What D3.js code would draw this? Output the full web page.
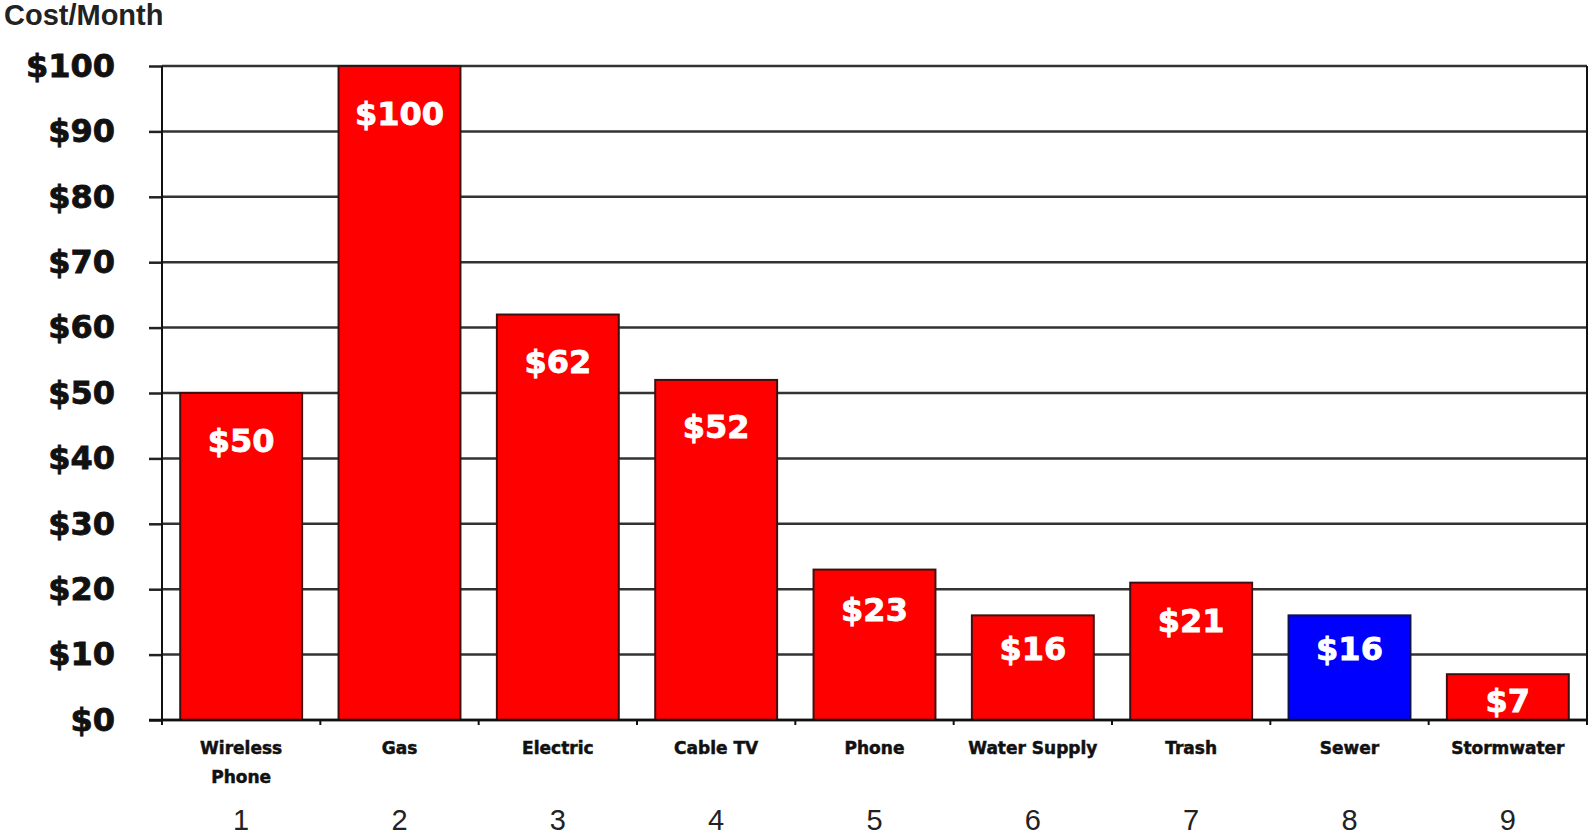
<!DOCTYPE html>
<html>
<head>
<meta charset="utf-8">
<script src="https://cdn.jsdelivr.net/npm/d3@7"></script>
<style>
  body { margin: 0; background: #fff; }
  svg { display: block; }
</style>
</head>
<body>
<div id="chart"></div>
<script>
// data
var categories = ["Wireless\nPhone", "Gas", "Electric", "Cable TV", "Phone", "Water Supply", "Trash", "Sewer", "Stormwater"];
var costs = [50, 100, 62, 52, 23, 16, 21, 16, 7];
var ranks = [1, 2, 3, 4, 5, 6, 7, 8, 9];
var highlight = "Sewer";
var yTicks = [0, 10, 20, 30, 40, 50, 60, 70, 80, 90, 100];

var W = 1589, H = 837;
// plot area edges (note: "top" is a reserved window prop, so prefixed)
var plotL = 162, plotR = 1587, plotT = 66, plotB = 720;

var svg = d3.select("#chart")
  .append("svg")
  .attr("width", W)
  .attr("height", H);

var x = d3.scaleBand()
  .domain(categories)
  .range([plotL, plotR])
  .paddingInner(0.23)
  .paddingOuter(0.115);

var y = d3.scaleLinear()
  .domain([0, 100])
  .range([plotB, plotT]);

// gridlines + y axis
var yAxis = d3.axisLeft(y)
  .tickValues(yTicks)
  .tickSize(13)
  .tickPadding(34)
  .tickFormat(function(d) { return "$" + d; });

svg.append("g")
  .selectAll("line")
  .data(yTicks)
  .enter()
  .append("line")
  .attr("x1", plotL)
  .attr("x2", plotR)
  .attr("y1", function(d) { return y(d); })
  .attr("y2", function(d) { return y(d); })
  .style("stroke", "#333")
  .style("stroke-width", 2.5);

var gy = svg.append("g")
  .attr("transform", "translate(" + plotL + ",0)")
  .call(yAxis);
gy.select(".domain").remove();
gy.selectAll(".tick line").style("stroke", "#222").style("stroke-width", 2.5);
gy.selectAll(".tick text")
  .style("font-family", "'DejaVu Sans', sans-serif")
  .style("font-weight", "bold")
  .style("font-size", "32px")
  .style("fill", "#111")
  .style("stroke", "#111")
  .style("stroke-width", 0.8);

// frame: left axis line and right border
svg.append("line")
  .attr("x1", plotL).attr("x2", plotL)
  .attr("y1", plotT).attr("y2", plotB + 5)
  .style("stroke", "#111").style("stroke-width", 2);
svg.append("line")
  .attr("x1", plotR).attr("x2", plotR)
  .attr("y1", plotT).attr("y2", plotB + 4)
  .style("stroke", "#111").style("stroke-width", 2);

// bars
svg.selectAll("rect.bar")
  .data(categories)
  .enter()
  .append("rect")
  .attr("class", "bar")
  .attr("x", function(d) { return x(d); })
  .attr("y", function(d, i) { return y(costs[i]); })
  .attr("width", x.bandwidth())
  .attr("height", function(d, i) { return plotB - y(costs[i]); })
  .style("fill", function(d) { return d === highlight ? "#0000ff" : "#ff0000"; })
  .style("stroke", function(d) { return d === highlight ? "#101050" : "#401010"; })
  .style("stroke-width", 2);

// x axis line and small ticks between bands
svg.append("line")
  .attr("x1", plotL - 13).attr("x2", plotR)
  .attr("y1", plotB).attr("y2", plotB)
  .style("stroke", "#111").style("stroke-width", 2.5);

svg.append("g")
  .selectAll("line")
  .data(d3.range(categories.length + 1))
  .enter()
  .append("line")
  .attr("x1", function(i) { return plotL + i * x.step(); })
  .attr("x2", function(i) { return plotL + i * x.step(); })
  .attr("y1", plotB)
  .attr("y2", plotB + 5)
  .style("stroke", "#111")
  .style("stroke-width", 2);

// value labels inside the bars
svg.selectAll("text.val")
  .data(categories)
  .enter()
  .append("text")
  .attr("class", "val")
  .attr("x", function(d) { return x(d) + x.bandwidth() / 2; })
  .attr("y", function(d, i) {
    var h = plotB - y(costs[i]);
    return y(costs[i]) + Math.min(47, 20 + h * 0.13);
  })
  .attr("dy", "0.36em")
  .attr("text-anchor", "middle")
  .style("font-family", "'DejaVu Sans', sans-serif")
  .style("font-weight", "bold")
  .style("font-size", "32px")
  .style("fill", "#fff")
  .style("stroke", "#fff")
  .style("stroke-width", 0.8)
  .text(function(d, i) { return "$" + costs[i]; });

// category labels
var cat = svg.selectAll("text.cat")
  .data(categories)
  .enter()
  .append("text")
  .attr("class", "cat")
  .attr("x", function(d) { return x(d) + x.bandwidth() / 2; })
  .attr("y", 748)
  .attr("text-anchor", "middle")
  .style("font-family", "'DejaVu Sans', sans-serif")
  .style("font-weight", "bold")
  .style("font-size", "17px")
  .style("fill", "#111")
  .style("stroke", "#111")
  .style("stroke-width", 0.5);

cat.selectAll("tspan")
  .data(function(d) { return d.split("\n"); })
  .enter()
  .append("tspan")
  .attr("x", function() { return this.parentNode.getAttribute("x"); })
  .attr("dy", function(d, i) { return i === 0 ? "0.36em" : "29px"; })
  .text(function(d) { return d; });

// rank numbers
svg.selectAll("text.rank")
  .data(categories)
  .enter()
  .append("text")
  .attr("class", "rank")
  .attr("x", function(d) { return x(d) + x.bandwidth() / 2; })
  .attr("y", 820)
  .attr("dy", "0.36em")
  .attr("text-anchor", "middle")
  .style("font-family", "'Liberation Sans', Arial, sans-serif")
  .style("font-size", "29px")
  .style("fill", "#222")
  .text(function(d, i) { return ranks[i]; });

// axis title
svg.append("text")
  .attr("x", 4)
  .attr("y", 15)
  .attr("dy", "0.36em")
  .style("font-family", "'Liberation Sans', Arial, sans-serif")
  .style("font-weight", "bold")
  .style("font-size", "29px")
  .style("fill", "#222")
  .text("Cost/Month");
</script>
</body>
</html>
